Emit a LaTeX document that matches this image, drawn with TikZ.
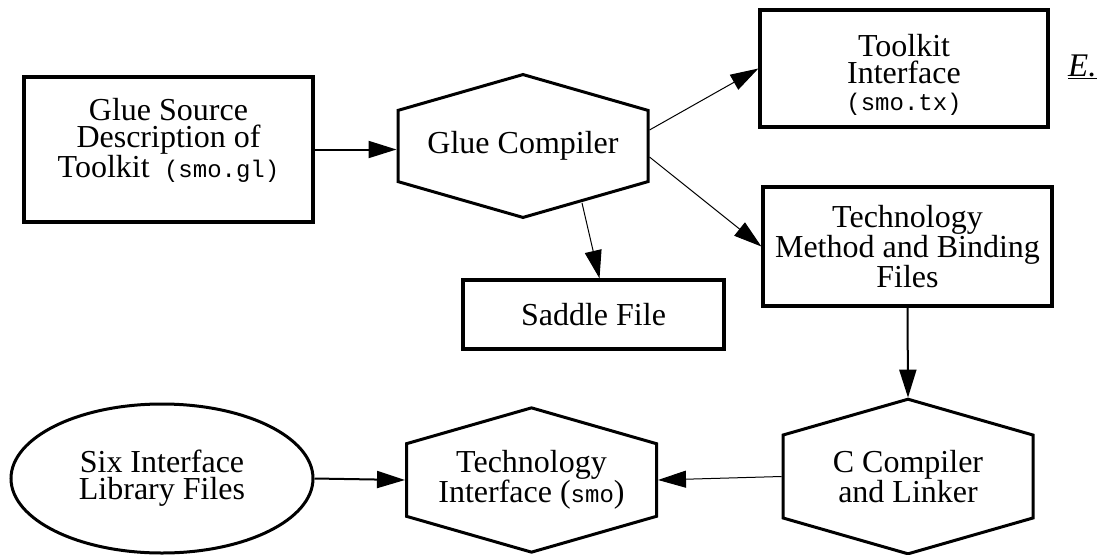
\documentclass[tikz,border=0pt]{standalone}
\usepackage{fontspec}
\setmainfont{Liberation Serif}
\setmonofont{Liberation Mono}
\usetikzlibrary{arrows.meta,shapes.geometric,shapes.symbols}
\newcommand{\fname}[1]{{\fontsize{24}{27}\selectfont\ttfamily #1}}

\begin{document}
\begin{tikzpicture}[x=1pt,y=-1pt,
    every node/.style={font=\fontsize{32}{27}\selectfont, align=center},
    filebox/.style={draw, line width=3.2pt, rectangle, inner sep=0pt},
    tool/.style={draw, line width=3pt, shape=signal, signal to=north and south,
        signal pointer angle=148, minimum width=250pt, minimum height=126pt, inner sep=0pt},
    lib/.style={draw, line width=3pt, ellipse, minimum width=302pt, minimum height=149pt, inner sep=0pt},
    flow/.style={-{Triangle[length=28pt,width=17pt]}, line width=2pt},
    thinflow/.style={flow, line width=1pt}]
    \useasboundingbox (0,0) rectangle (1102,554);
    \node[filebox, minimum width=289pt, minimum height=145pt, text depth=24pt] (gs) at (168.5,149.5)
        {Glue Source\\Description of\\Toolkit\fname{ (smo.gl)}};
    \node[tool] (gc) at (523,146) {Glue Compiler};
    \node[filebox, minimum width=288pt, minimum height=117pt, text height=89pt] (tk) at (904,68.5)
        {Toolkit\\Interface\\\fname{(smo.tx)}};
    \node[anchor=base west, inner sep=0pt, font=\fontsize{33}{33}\selectfont\itshape] (mark) at (1068,76) {\underline{E.}};
    \node[filebox, minimum width=289pt, minimum height=119pt] (tm) at (907.5,246.5)
        {Technology\\Method and Binding\\Files};
    \node[filebox, minimum width=261pt, minimum height=69pt] (sf) at (593.5,314.5) {Saddle File};
    \node[tool] (cc) at (908,476.5) {C Compiler\\and Linker};
    \node[tool] (ti) at (531.5,480) {Technology\\Interface (\fname{smo})};
    \node[lib] (six) at (162,478.5) {Six Interface\\Library Files};
    \draw[flow] (gs.east) -- (gs.east -| gc.west);
    \draw[thinflow] ([yshift=16pt]gc.east) -- (tk.west);
    \draw[thinflow] ([yshift=-11pt]gc.east) -- (tm.west);
    \draw[thinflow] ([shift={(59pt,-57pt)}]gc.center) -- ([xshift=6pt]sf.north);
    \draw[flow] (tm.south) -- (cc.north);
    \draw[thinflow] (cc.west) -- (ti.east);
    \draw[flow] (six.east) -- (ti.west);
\end{tikzpicture}
\end{document}
